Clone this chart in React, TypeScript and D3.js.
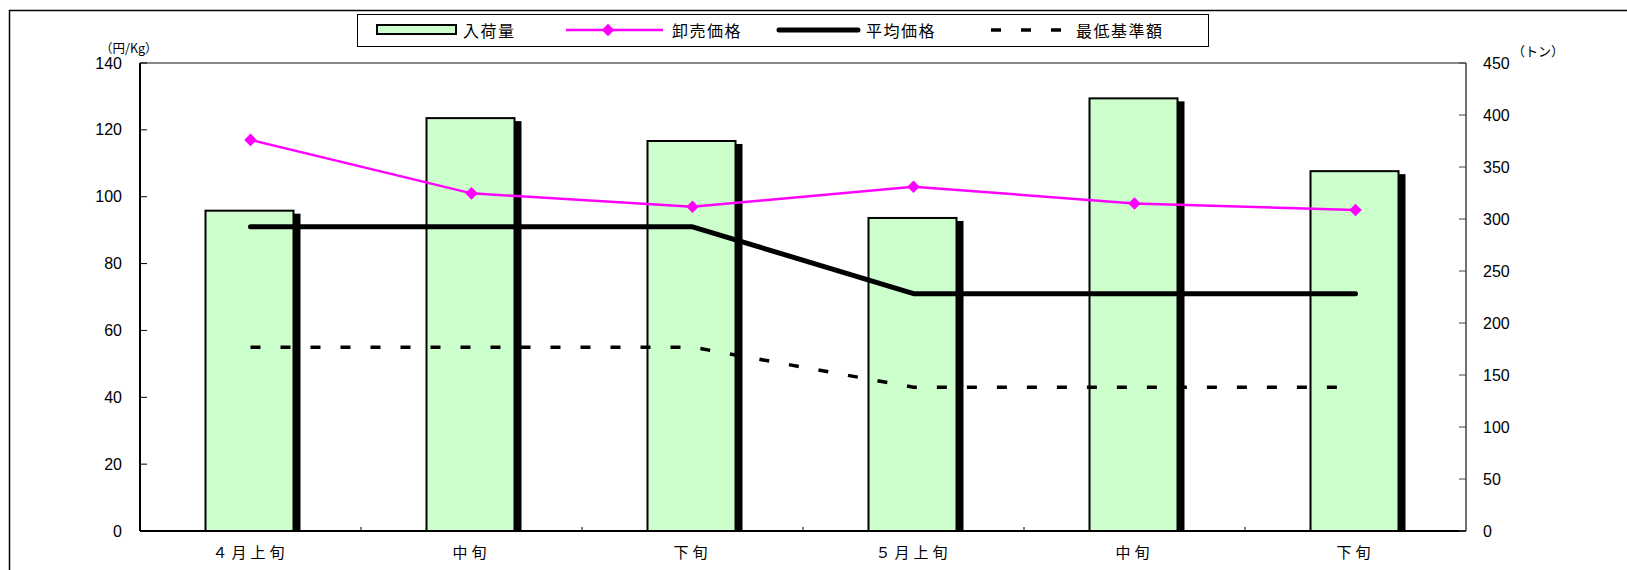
import { useMemo } from "react";
import * as d3 from "d3";

const categories = ["４月上旬", "中旬", "下旬", "５月上旬", "中旬", "下旬"];
const arrivals = [308, 397, 375, 301, 416, 346]; // 入荷量 (トン)
const wholesale = [117, 101, 97, 103, 98, 96]; // 卸売価格
const average = [91, 91, 91, 71, 71, 71]; // 平均価格
const minimum = [55, 55, 55, 43, 43, 43]; // 最低基準額
const leftTicks = [0, 20, 40, 60, 80, 100, 120, 140];
const rightTicks = [0, 50, 100, 150, 200, 250, 300, 350, 400, 450];

const W = 1627;
const H = 570;
const margin = { top: 63, right: 161, bottom: 39, left: 140 };
const numFont = "'Liberation Sans', Arial, sans-serif";
const jpFont = "'Noto Sans CJK JP', 'Noto Sans', sans-serif";

export default function App() {
  const innerW = W - margin.left - margin.right;
  const innerH = H - margin.top - margin.bottom;

  const x = useMemo(
    () => d3.scaleBand<number>().domain(d3.range(categories.length)).range([0, innerW]),
    [innerW]
  );
  const yL = useMemo(() => d3.scaleLinear().domain([0, 140]).range([innerH, 0]), [innerH]);
  const yR = useMemo(() => d3.scaleLinear().domain([0, 450]).range([innerH, 0]), [innerH]);

  const cx = (i: number) => x(i)! + x.bandwidth() / 2;
  const line = d3
    .line<number>()
    .x((_, i) => cx(i))
    .y((d) => yL(d));

  const barW = 88;
  const diamond = d3.symbol(d3.symbolDiamond2, 100)()!;

  return (
    <svg
      width={W}
      height={H}
      style={{ position: "absolute", left: 0, top: 0, background: "#fff" }}
    >
      {/* outer frame */}
      <rect x={9.5} y={10.5} width={W + 10} height={H + 10} fill="none" stroke="#000" strokeWidth={1.5} />

      {/* legend */}
      <g>
        <rect x={357.5} y={14.5} width={851} height={32} fill="#fff" stroke="#000" strokeWidth={1} />
        <rect x={377} y={25} width={79} height={9} fill="#ccffcc" stroke="#000" strokeWidth={2} />
        <text x={463} y={30} dominantBaseline="central" fontFamily={jpFont} fontSize={16} letterSpacing={1.5}>入荷量</text>
        <line x1={566} x2={663} y1={30} y2={30} stroke="#ff00ff" strokeWidth={2.5} />
        <path d={diamond} transform="translate(608,30)" fill="#ff00ff" />
        <text x={672} y={30} dominantBaseline="central" fontFamily={jpFont} fontSize={16} letterSpacing={1.5}>卸売価格</text>
        <line x1={779} x2={858} y1={30} y2={30} stroke="#000" strokeWidth={5} strokeLinecap="round" />
        <text x={866} y={30} dominantBaseline="central" fontFamily={jpFont} fontSize={16} letterSpacing={1.5}>平均価格</text>
        <line x1={991} x2={1065} y1={30} y2={30} stroke="#000" strokeWidth={3.5} strokeDasharray="10 20" />
        <text x={1076} y={30} dominantBaseline="central" fontFamily={jpFont} fontSize={16} letterSpacing={1.5}>最低基準額</text>
      </g>

      <text x={100} y={47} dominantBaseline="central" fontFamily={jpFont} fontSize={12.5}>（円/Kg）</text>
      <text x={1512} y={50} dominantBaseline="central" fontFamily={jpFont} fontSize={13}>（トン）</text>

      <g transform={`translate(${margin.left},${margin.top})`}>
        {/* plot frame */}
        <line x1={0} x2={innerW} y1={0} y2={0} stroke="#888" strokeWidth={2} />
        <line x1={innerW} x2={innerW} y1={0} y2={innerH} stroke="#444" strokeWidth={1.5} />

        {/* bars with shadow */}
        {arrivals.map((v, i) => (
          <g key={`bar${i}`}>
            <rect
              x={cx(i) - barW / 2 + 6}
              y={yR(v) + 3}
              width={barW}
              height={innerH - yR(v) - 3}
              fill="#000"
            />
            <rect
              x={cx(i) - barW / 2 - 1}
              y={yR(v)}
              width={barW}
              height={innerH - yR(v)}
              fill="#ccffcc"
              stroke="#000"
              strokeWidth={2}
            />
          </g>
        ))}

        {/* axes */}
        <line x1={0} x2={0} y1={0} y2={innerH} stroke="#000" strokeWidth={2} />
        <line x1={0} x2={innerW} y1={innerH} y2={innerH} stroke="#000" strokeWidth={2} />
        {leftTicks.map((t) => (
          <g key={`lt${t}`}>
            <line x1={0} x2={7} y1={yL(t)} y2={yL(t)} stroke="#000" strokeWidth={1} />
            <text x={-18} y={yL(t)} textAnchor="end" dominantBaseline="central" fontFamily={numFont} fontSize={16}>
              {t}
            </text>
          </g>
        ))}
        {rightTicks.map((t) => (
          <g key={`rt${t}`}>
            <line x1={innerW - 7} x2={innerW} y1={yR(t)} y2={yR(t)} stroke="#444" strokeWidth={1} />
            <text x={innerW + 17} y={yR(t)} dominantBaseline="central" fontFamily={numFont} fontSize={16}>
              {t}
            </text>
          </g>
        ))}
        {d3.range(1, categories.length).map((i) => (
          <line key={`xt${i}`} x1={x(i)!} x2={x(i)!} y1={innerH} y2={innerH - 4} stroke="#000" strokeWidth={1} />
        ))}
        {categories.map((c, i) => (
          <text
            key={`xl${i}`}
            x={cx(i)}
            y={innerH + 20}
            textAnchor="middle"
            dominantBaseline="central"
            fontFamily={jpFont}
            fontSize={15}
            letterSpacing={4}
          >
            {c}
          </text>
        ))}

        {/* lines */}
        <path d={line(minimum)!} fill="none" stroke="#000" strokeWidth={3.5} strokeDasharray="10 20" />
        <path d={line(average)!} fill="none" stroke="#000" strokeWidth={5} strokeLinecap="round" strokeLinejoin="round" />
        <path d={line(wholesale)!} fill="none" stroke="#ff00ff" strokeWidth={2.5} />
        {wholesale.map((v, i) => (
          <path key={`m${i}`} d={diamond} transform={`translate(${cx(i)},${yL(v)})`} fill="#ff00ff" />
        ))}
      </g>
    </svg>
  );
}
